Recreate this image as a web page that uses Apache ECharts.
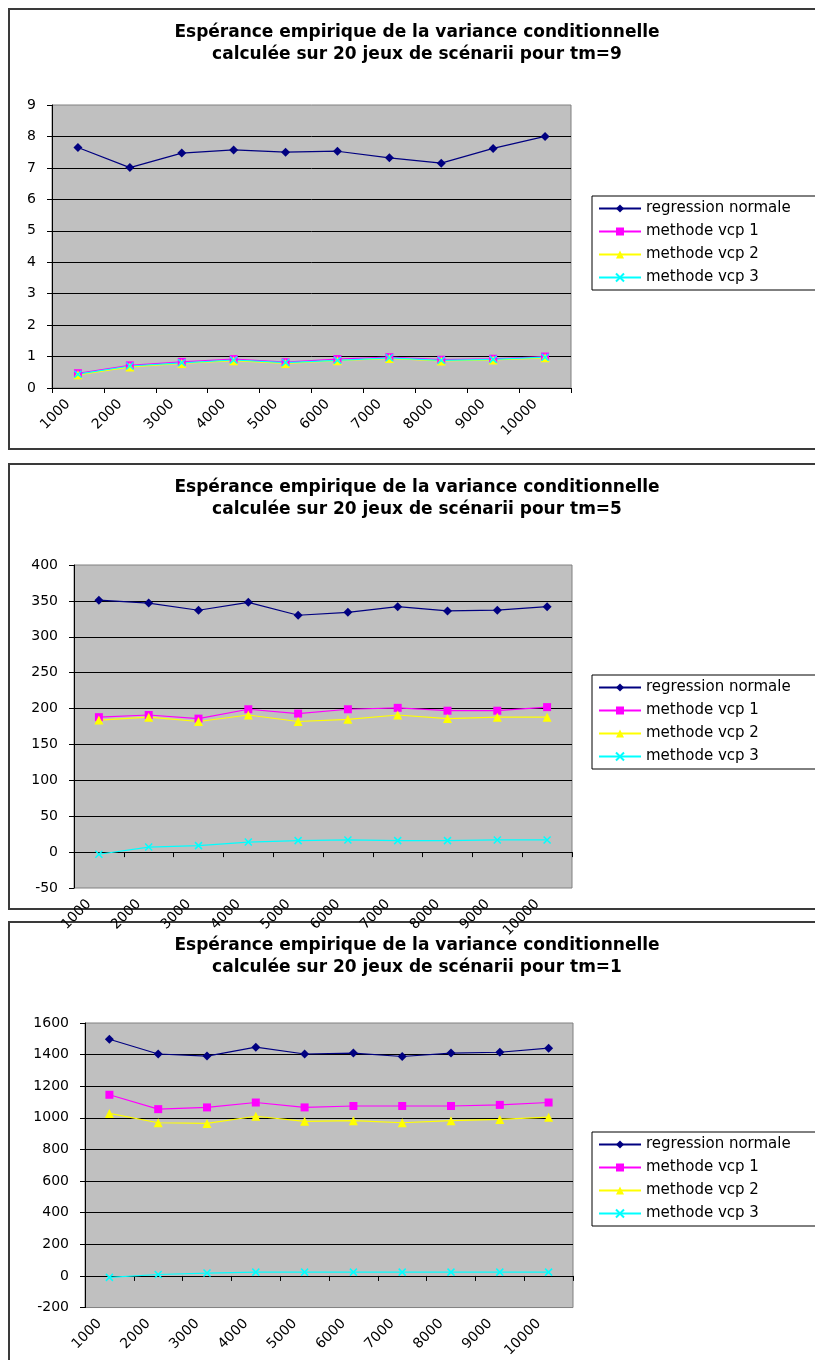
<!DOCTYPE html>
<html>
<head>
<meta charset="utf-8">
<script src="https://cdn.jsdelivr.net/npm/echarts@6/dist/echarts.min.js"></script>
<style>
html,body{margin:0;padding:0;background:#fff;overflow:hidden}
#c{width:815px;height:1360px}
</style>
</head>
<body>
<div id="c"></div>
<script>
// ---------- DATA ----------
const categories = ['1000','2000','3000','4000','5000','6000','7000','8000','9000','10000'];
const seriesNames = ['regression normale','methode vcp 1','methode vcp 2','methode vcp 3'];

const titles = [
  'Espérance empirique de la variance conditionnelle\ncalculée sur 20 jeux de scénarii pour tm=9',
  'Espérance empirique de la variance conditionnelle\ncalculée sur 20 jeux de scénarii pour tm=5',
  'Espérance empirique de la variance conditionnelle\ncalculée sur 20 jeux de scénarii pour tm=1'
];

// tm = 9
const tm9Regression = [7.65, 7.01, 7.47, 7.57, 7.50, 7.53, 7.32, 7.15, 7.62, 8.00];
const tm9Vcp1 = [0.47, 0.72, 0.83, 0.92, 0.82, 0.92, 0.98, 0.90, 0.93, 1.00];
const tm9Vcp2 = [0.42, 0.67, 0.78, 0.87, 0.78, 0.87, 0.94, 0.86, 0.89, 0.96];
const tm9Vcp3 = [0.44, 0.70, 0.80, 0.89, 0.81, 0.88, 0.96, 0.88, 0.91, 0.98];

// tm = 5
const tm5Regression = [351, 347, 337, 348, 330, 334, 342, 336, 337, 342];
const tm5Vcp1 = [188, 191, 186, 199, 193, 199, 201, 197, 197, 202];
const tm5Vcp2 = [184, 188, 182, 191, 182, 185, 191, 186, 188, 188];
const tm5Vcp3 = [-3, 7, 9, 14, 16, 17, 16, 16, 17, 17];

// tm = 1
const tm1Regression = [1497, 1404, 1391, 1447, 1404, 1410, 1388, 1410, 1415, 1441];
const tm1Vcp1 = [1146, 1055, 1066, 1097, 1066, 1075, 1075, 1075, 1082, 1097];
const tm1Vcp2 = [1028, 969, 965, 1010, 978, 982, 969, 982, 990, 1004];
const tm1Vcp3 = [-9, 9, 18, 24, 24, 24, 24, 24, 24, 24];

// y-axis scales
const yMins = [0, -50, -200];
const yMaxs = [9, 400, 1600];
const yIntervals = [1, 50, 200];

// ---------- STYLE ----------
const FONT = 'DejaVu Sans';
const colors = ['#000080', '#FF00FF', '#FFFF00', '#00FFFF'];
const symbols = ['diamond', 'rect', 'triangle', 'path://M0 0L10 10M10 0L0 10'];
const symbolSizes = [9, 8, 9, 7];

const layout = [
  {box: [9, 9, 840, 440],  title: 22,  grid: {left: 52, top: 105, width: 519, height: 283}, legend: 196},
  {box: [9, 464, 840, 445], title: 477, grid: {left: 74, top: 565, width: 498, height: 323}, legend: 675},
  {box: [9, 922, 840, 460], title: 935, grid: {left: 85, top: 1023, width: 488, height: 322}, legend: 1132}
];

const chartData = [
  [tm9Regression, tm9Vcp1, tm9Vcp2, tm9Vcp3],
  [tm5Regression, tm5Vcp1, tm5Vcp2, tm5Vcp3],
  [tm1Regression, tm1Vcp1, tm1Vcp2, tm1Vcp3]
];

const option = {
  animation: false,
  backgroundColor: '#fff',
  graphic: layout.map(l => ({
    type: 'rect', silent: true, z: -10,
    shape: {x: l.box[0], y: l.box[1], width: l.box[2], height: l.box[3]},
    style: {fill: '#fff', stroke: '#3a3a3a', lineWidth: 2}
  })),
  title: layout.map((l, i) => ({
    text: titles[i],
    left: 417, top: l.title, textAlign: 'center', padding: 0,
    textStyle: {fontFamily: FONT, fontSize: 17, fontWeight: 'bold', color: '#000', lineHeight: 22}
  })),
  legend: layout.map((l, i) => ({
    orient: 'vertical', left: 592, top: l.legend,
    data: seriesNames,
    backgroundColor: '#fff', borderColor: '#000', borderWidth: 1,
    padding: [5, 40, 5, 6], itemGap: 8,
    itemWidth: 42, itemHeight: 10,
    selectedMode: false,
    textStyle: {fontFamily: FONT, fontSize: 15, color: '#000'}
  })),
  grid: layout.map(l => Object.assign({
    show: true, backgroundColor: '#C0C0C0', borderColor: '#808080', borderWidth: 1
  }, l.grid)),
  xAxis: layout.map((l, i) => ({
    type: 'category', gridIndex: i, data: categories, boundaryGap: true,
    axisLine: {show: true, onZero: true, lineStyle: {color: '#000', width: 1}},
    axisTick: {show: true, length: 5, lineStyle: {color: '#000'}},
    axisLabel: {interval: 0, rotate: 45, margin: 4, padding: [0, 14, 0, 0],
      fontFamily: FONT, fontSize: 14, color: '#000'},
    splitLine: {show: false}
  })),
  yAxis: layout.map((l, i) => ({
    type: 'value', gridIndex: i, min: yMins[i], max: yMaxs[i], interval: yIntervals[i],
    axisLine: {show: true, lineStyle: {color: '#000', width: 1}},
    axisTick: {show: true, length: 5, lineStyle: {color: '#000'}},
    axisLabel: {margin: 16, fontFamily: FONT, fontSize: 14, color: '#000',
      formatter: v => String(v)},
    splitLine: {show: true, showMinLine: false, showMaxLine: false, lineStyle: {color: '#000', width: 1}}
  })),
  series: []
};

chartData.forEach((set, ci) => {
  set.forEach((vals, si) => {
    option.series.push({
      type: 'line', name: seriesNames[si],
      xAxisIndex: ci, yAxisIndex: ci,
      data: vals,
      symbol: symbols[si], symbolSize: symbolSizes[si], showAllSymbol: true,
      lineStyle: {color: colors[si], width: 1.2},
      itemStyle: si === 3
        ? {color: colors[si], borderColor: colors[si], borderWidth: 1.5}
        : {color: colors[si], borderWidth: 0},
      emphasis: {disabled: true}
    });
  });
});

const chart = echarts.init(document.getElementById('c'), null, {renderer: 'canvas'});
chart.setOption(option);
</script>
</body>
</html>
